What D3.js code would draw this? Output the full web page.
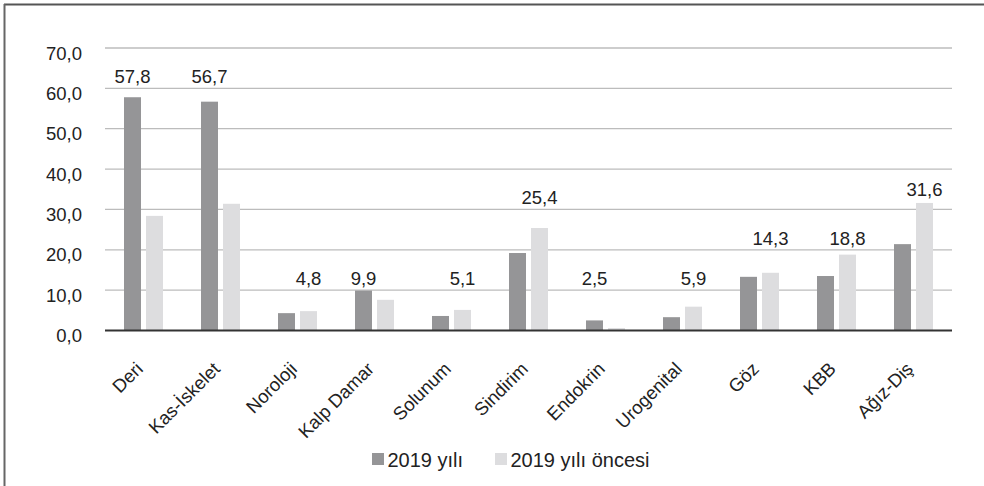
<!DOCTYPE html>
<html>
<head>
<meta charset="utf-8">
<script src="https://cdn.jsdelivr.net/npm/d3@7"></script>
<style>
  html, body { margin: 0; padding: 0; background: #fff; }
  svg { display: block; font-family: "Liberation Sans", Arial, Helvetica, sans-serif; }
</style>
</head>
<body>
<svg id="chart" width="984" height="486"></svg>
<script>
// Categories and the two series (percent)
const categories = ["Deri", "Kas-İskelet", "Noroloji", "Kalp Damar", "Solunum", "Sindirim",
                    "Endokrin", "Urogenital", "Göz", "KBB", "Ağız-Diş"];
const seriesNames = ["2019 yılı", "2019 yılı öncesi"];
const values2019 = [57.8, 56.7, 4.3, 9.9, 3.6, 19.2, 2.5, 3.3, 13.3, 13.5, 21.4];
const valuesBefore = [28.4, 31.4, 4.8, 7.6, 5.1, 25.4, 0.6, 5.9, 14.3, 18.8, 31.6];
const yTicks = [0, 10, 20, 30, 40, 50, 60, 70];

const colors = ["#959597", "#dddddf"];
const fmt = v => v.toFixed(1).replace(".", ",");

const svg = d3.select("#chart");
const W = 984, H = 486;
const plot = { left: 105, right: 952, top: 48, bottom: 330.5 };

// frame (top and left edges)
svg.append("line").attr("x1", 4).attr("x2", W).attr("y1", 4.5).attr("y2", 4.5)
  .attr("stroke", "#555").attr("stroke-width", 2);
svg.append("line").attr("x1", 4.5).attr("x2", 4.5).attr("y1", 4).attr("y2", H)
  .attr("stroke", "#666").attr("stroke-width", 2);

const x0 = d3.scaleBand().domain(categories).range([plot.left, plot.right]).padding(0);
const x1 = d3.scaleBand().domain(seriesNames)
  .range([x0.bandwidth() / 2 - 19.5, x0.bandwidth() / 2 + 19.5]).paddingInner(0.227);
const y = d3.scaleLinear().domain([0, 70]).range([plot.bottom, plot.top]);

// gridlines
svg.append("g").selectAll("line").data(yTicks.filter(t => t > 0)).join("line")
  .attr("x1", plot.left).attr("x2", plot.right)
  .attr("y1", d => y(d)).attr("y2", d => y(d))
  .attr("stroke", "#bcbcbc").attr("stroke-width", 1.3);

// y-axis labels
const yAxis = d3.axisLeft(y).tickValues(yTicks).tickFormat(fmt).tickSize(0).tickPadding(0);
const gy = svg.append("g").attr("transform", `translate(${82},0)`).call(yAxis);
gy.select(".domain").remove();
gy.selectAll("text").attr("font-size", 18.5).attr("fill", "#222")
  .attr("font-family", "Liberation Sans, Arial, sans-serif").attr("dy", "0.6em");

// bars
const rows = categories.map((c, i) => ({ cat: c, vals: [values2019[i], valuesBefore[i]] }));
const groups = svg.append("g").selectAll("g").data(rows).join("g")
  .attr("transform", d => `translate(${x0(d.cat)},0)`);
groups.selectAll("rect").data(d => d.vals.map((v, k) => ({ v, k }))).join("rect")
  .attr("x", d => x1(seriesNames[d.k]))
  .attr("width", x1.bandwidth())
  .attr("y", d => y(d.v))
  .attr("height", d => y(0) - y(d.v))
  .attr("fill", d => colors[d.k]);

// value label over the taller bar of each pair
groups.each(function (d) {
  const k = d.vals[0] >= d.vals[1] ? 0 : 1;
  const v = d.vals[k];
  const level = Math.ceil(v / 10) * 10;
  const ly = (level - v > 8) ? y(v) - 7 : y(level) - 5;
  d3.select(this).append("text")
    .attr("x", x1(seriesNames[k]) + x1.bandwidth() / 2)
    .attr("y", ly)
    .attr("text-anchor", "middle")
    .attr("font-size", 18.5).attr("fill", "#222")
    .text(fmt(v));
});

// zero axis line
svg.append("line").attr("x1", plot.left).attr("x2", plot.right)
  .attr("y1", y(0)).attr("y2", y(0)).attr("stroke", "#333").attr("stroke-width", 2);

// category labels, rotated
svg.append("g").selectAll("text").data(categories).join("text")
  .attr("transform", d => `translate(${x0(d) + x0.bandwidth() / 2 - 4},${plot.bottom + 35}) rotate(-45)`)
  .attr("text-anchor", "end").attr("dy", "0.35em")
  .attr("font-size", 18.5).attr("fill", "#222")
  .text(d => d);

// legend
const legend = svg.append("g");
const legendX = [372, 495];
seriesNames.forEach((name, k) => {
  legend.append("rect").attr("x", legendX[k]).attr("y", 453).attr("width", 12).attr("height", 12)
    .attr("fill", colors[k]);
  legend.append("text").attr("x", legendX[k] + 15.5).attr("y", 466.5)
    .attr("font-size", 20).attr("fill", "#222").text(name);
});
</script>
</body>
</html>
